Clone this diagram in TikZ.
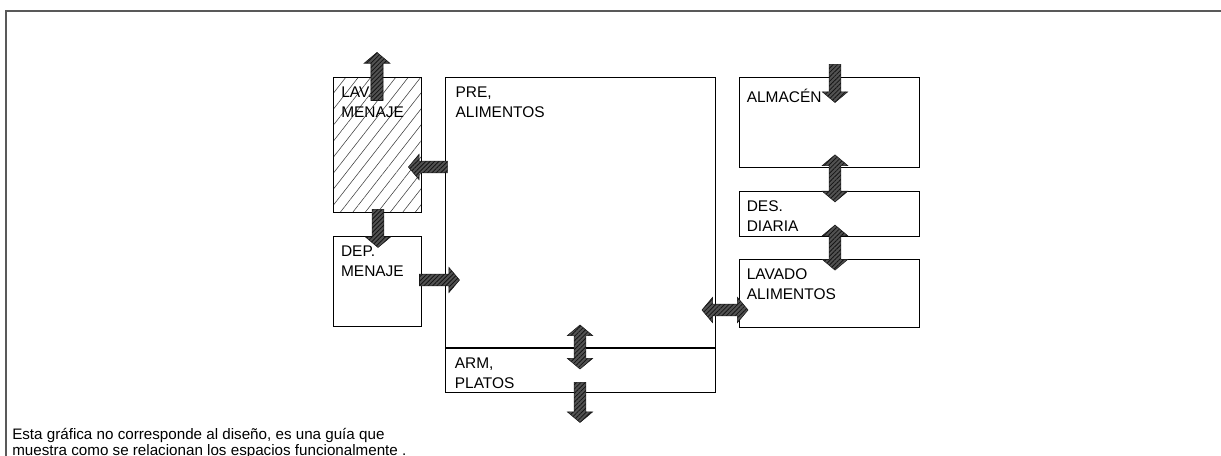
\documentclass[tikz,border=0pt]{standalone}
\usepackage{fontspec}
\setmainfont{Liberation Sans}
\usetikzlibrary{positioning, shapes.arrows, patterns.meta}

\begin{document}
\begin{tikzpicture}[
        room/.style = {
            rectangle,
            draw,
            line width=0.7pt,
            inner sep=0pt
        },
        hatched/.style = {
            pattern={Lines[angle=52, distance=7pt, line width=0.4pt]},
            pattern color=black!75
        },
        tag/.style = {
            anchor=north west,
            inner sep=0pt,
            align=left,
            font=\fontsize{11}{14.2}\selectfont
        },
        flow/.style = {
            single arrow,
            draw=black!90,
            line width=0.4pt,
            inner xsep=0pt,
            inner ysep=0.14cm,
            preaction={fill=black!68},
            pattern={Lines[angle=45, distance=2.2pt, line width=0.6pt]},
            pattern color=black!92,
            single arrow head extend=0.17cm,
            single arrow tip angle=100
        },
        flowboth/.style = {
            double arrow,
            draw=black!90,
            line width=0.4pt,
            inner xsep=0pt,
            inner ysep=0.14cm,
            preaction={fill=black!68},
            pattern={Lines[angle=45, distance=2.2pt, line width=0.6pt]},
            pattern color=black!92,
            double arrow head extend=0.17cm,
            double arrow tip angle=100
        },
        note/.style = {
            anchor=north west,
            inner sep=0pt,
            align=left,
            font=\fontsize{10.8}{9}\selectfont
        }
        ]

        \useasboundingbox (0,0) rectangle (30.525,11.4);

        % frame
        \draw[black!65, line width=1.4pt] (0.15,0) |- (30.525,11.125);

        % rooms
        \node (lav) [room, hatched, minimum width=2.2cm, minimum height=3.375cm, anchor=north west] at (8.325,9.475) {};
        \node (dep) [room, minimum width=2.2cm, minimum height=2.25cm, below=0.575cm of lav] {};
        \node (pre) [room, minimum width=6.75cm, minimum height=6.75cm, below right=0cm and 0.575cm of lav.north east] {};
        \node (arm) [room, minimum width=6.75cm, minimum height=1.1cm, below=0cm of pre] {};
        \node (alm) [room, minimum width=4.5cm, minimum height=2.25cm, below right=0cm and 0.575cm of pre.north east] {};
        \node (des) [room, minimum width=4.5cm, minimum height=1.125cm, below=0.575cm of alm] {};
        \node (lavali) [room, minimum width=4.5cm, minimum height=1.7cm, below=0.55cm of des] {};

        % labels
        \node (lav_txt) [tag] at ([shift={(0.2cm,-0.24cm)}]lav.north west) {LAV.\\MENAJE};
        \node (dep_txt) [tag] at ([shift={(0.2cm,-0.24cm)}]dep.north west) {DEP.\\MENAJE};
        \node (pre_txt) [tag] at ([shift={(0.27cm,-0.24cm)}]pre.north west) {PRE,\\ALIMENTOS};
        \node (arm_txt) [tag] at ([shift={(0.25cm,-0.24cm)}]arm.north west) {ARM,\\PLATOS};
        \node (alm_txt) [tag, anchor=base west] at ([shift={(0.2cm,-0.63cm)}]alm.north west) {ALMACÉN};
        \node (des_txt) [tag] at ([shift={(0.2cm,-0.24cm)}]des.north west) {DES.\\DIARIA};
        \node (lavali_txt) [tag] at ([shift={(0.2cm,-0.24cm)}]lavali.north west) {LAVADO\\ALIMENTOS};

        % flows
        \node (out_lav) [flow, rotate=90, minimum height=1.2cm] at (9.425,9.425) {};
        \node (pre_lav) [flow, rotate=180, minimum height=0.975cm] at (10.76,7.225) {};
        \node (lav_dep) [flow, rotate=270, minimum height=0.95cm] at (9.45,5.75) {};
        \node (dep_pre) [flow, minimum height=1.0cm] at (10.925,4.4) {};
        \node (pre_arm) [flowboth, rotate=90, minimum height=1.1cm] at (14.5,2.725) {};
        \node (arm_out) [flow, rotate=270, minimum height=1.0cm] at (14.5,1.4) {};
        \node (in_alm) [flow, rotate=270, minimum height=0.95cm] at (20.875,9.375) {};
        \node (alm_des) [flowboth, rotate=90, minimum height=1.175cm] at (20.875,6.94) {};
        \node (des_lavali) [flowboth, rotate=90, minimum height=1.125cm] at (20.875,5.21) {};
        \node (pre_lavali) [flowboth, minimum height=1.15cm] at (18.125,3.65) {};

        % note
        \node (note_txt) [note] at (0.3,0.7) {Esta gráfica no corresponde al diseño, es una guía que\\muestra como se relacionan los espacios funcionalmente .};

    \end{tikzpicture}
\end{document}
